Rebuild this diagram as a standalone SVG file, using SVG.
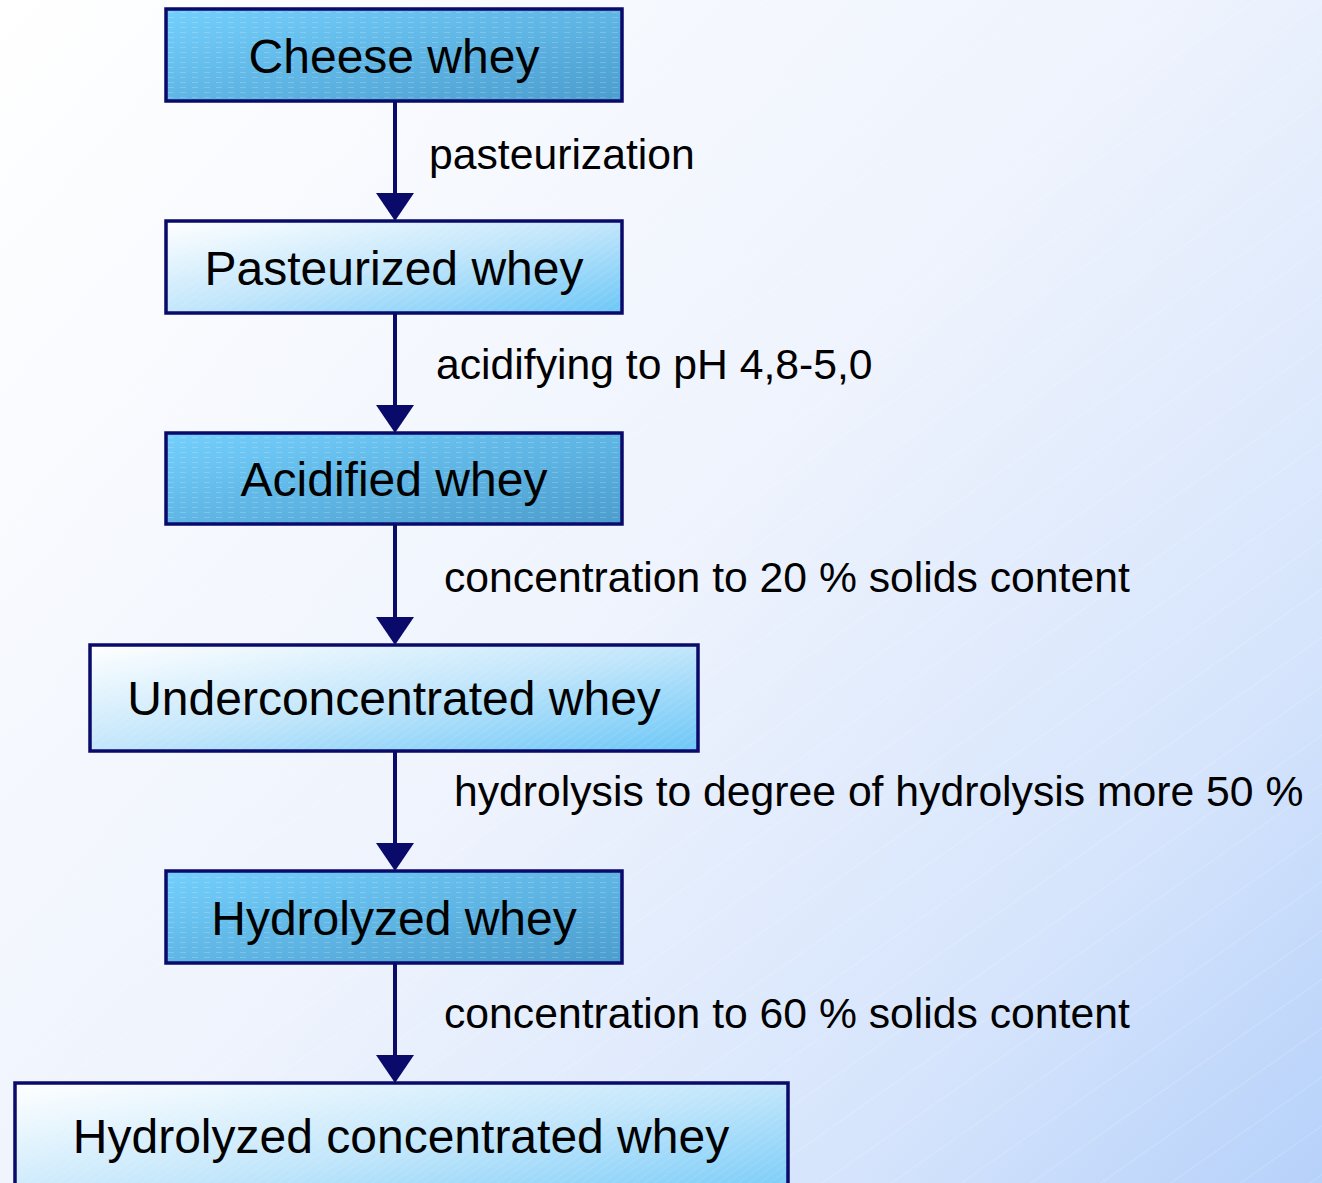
<svg xmlns="http://www.w3.org/2000/svg" width="1322" height="1183" viewBox="0 0 1322 1183">
  <defs>
    <linearGradient id="bg" x1="0" y1="0" x2="1322" y2="1183" gradientUnits="userSpaceOnUse">
      <stop offset="0" stop-color="#ffffff"/>
      <stop offset="0.5" stop-color="#eef3fd"/>
      <stop offset="0.8" stop-color="#d5e4fc"/>
      <stop offset="1" stop-color="#b6d1fa"/>
    </linearGradient>
    <pattern id="bgLines" width="40" height="40" patternUnits="userSpaceOnUse" patternTransform="rotate(-35)">
      <line x1="0" y1="0" x2="40" y2="0" stroke="#ffffff" stroke-width="1" stroke-opacity="0.35"/>
    </pattern>
    <linearGradient id="darkFill" x1="0" y1="0" x2="1" y2="1">
      <stop offset="0" stop-color="#74cffc"/>
      <stop offset="1" stop-color="#4b9dcd"/>
    </linearGradient>
    <linearGradient id="lightFill" x1="0" y1="0" x2="1" y2="1">
      <stop offset="0" stop-color="#ffffff"/>
      <stop offset="0.5" stop-color="#c2e6fb"/>
      <stop offset="1" stop-color="#6cc7f7"/>
    </linearGradient>
    <pattern id="dash" width="12" height="5" patternUnits="userSpaceOnUse">
      <line x1="0" y1="2.5" x2="6" y2="2.5" stroke="#ffffff" stroke-width="1" stroke-opacity="0.18"/>
    </pattern>
    <pattern id="diag" width="6" height="6" patternUnits="userSpaceOnUse" patternTransform="rotate(-35)">
      <line x1="0" y1="0" x2="6" y2="0" stroke="#ffffff" stroke-width="1" stroke-opacity="0.2"/>
    </pattern>
    <style>
      .box { stroke: #0a0a6b; stroke-width: 3.5; }
      .dark { fill: url(#darkFill); }
      .light { fill: url(#lightFill); }
      .title { font-family: "Liberation Sans", Arial, sans-serif; font-size: 48px; fill: #000000; text-anchor: middle; }
      .lbl { font-family: "Liberation Sans", Arial, sans-serif; font-size: 42.7px; fill: #000000; }
      .conn line { stroke: #0a0a6b; stroke-width: 4; }
      .conn polygon { fill: #0a0a6b; }
    </style>
  </defs>

  <rect x="0" y="0" width="1322" height="1183" fill="url(#bg)"/>
  <rect x="0" y="0" width="1322" height="1183" fill="url(#bgLines)"/>

  <g id="connectors" class="conn">
    <line x1="395" y1="101" x2="395" y2="195"/>
    <polygon points="376,193 414,193 395,221"/>
    <line x1="395" y1="313" x2="395" y2="407"/>
    <polygon points="376,405 414,405 395,433"/>
    <line x1="395" y1="524" x2="395" y2="619"/>
    <polygon points="376,617 414,617 395,645"/>
    <line x1="395" y1="751" x2="395" y2="845"/>
    <polygon points="376,843 414,843 395,871"/>
    <line x1="395" y1="963" x2="395" y2="1057"/>
    <polygon points="376,1055 414,1055 395,1083"/>
  </g>

  <g id="node-cheese-whey">
    <rect class="dark" x="166" y="9" width="456" height="92"/>
    <rect x="166" y="9" width="456" height="92" fill="url(#dash)"/>
    <rect class="box" x="166" y="9" width="456" height="92" fill="none"/>
    <text class="title" x="394" y="73">Cheese whey</text>
  </g>

  <g id="node-pasteurized-whey">
    <rect class="light" x="166" y="221" width="456" height="92"/>
    <rect x="166" y="221" width="456" height="92" fill="url(#diag)"/>
    <rect class="box" x="166" y="221" width="456" height="92" fill="none"/>
    <text class="title" x="394" y="285">Pasteurized whey</text>
  </g>

  <g id="node-acidified-whey">
    <rect class="dark" x="166" y="433" width="456" height="91"/>
    <rect x="166" y="433" width="456" height="91" fill="url(#dash)"/>
    <rect class="box" x="166" y="433" width="456" height="91" fill="none"/>
    <text class="title" x="394" y="496">Acidified whey</text>
  </g>

  <g id="node-underconcentrated-whey">
    <rect class="light" x="90" y="645" width="608" height="106"/>
    <rect x="90" y="645" width="608" height="106" fill="url(#diag)"/>
    <rect class="box" x="90" y="645" width="608" height="106" fill="none"/>
    <text class="title" x="394" y="715">Underconcentrated whey</text>
  </g>

  <g id="node-hydrolyzed-whey">
    <rect class="dark" x="166" y="871" width="456" height="92"/>
    <rect x="166" y="871" width="456" height="92" fill="url(#dash)"/>
    <rect class="box" x="166" y="871" width="456" height="92" fill="none"/>
    <text class="title" x="394" y="935">Hydrolyzed whey</text>
  </g>

  <g id="node-hydrolyzed-concentrated-whey">
    <rect class="light" x="15" y="1083" width="773" height="130"/>
    <rect x="15" y="1083" width="773" height="130" fill="url(#diag)"/>
    <rect class="box" x="15" y="1083" width="773" height="130" fill="none"/>
    <text class="title" x="401" y="1153">Hydrolyzed concentrated whey</text>
  </g>

  <g id="labels">
    <text class="lbl" x="429" y="169">pasteurization</text>
    <text class="lbl" x="436" y="379">acidifying to pH 4,8-5,0</text>
    <text class="lbl" x="444" y="592">concentration to 20 % solids content</text>
    <text class="lbl" x="454" y="806">hydrolysis to degree of hydrolysis more 50 %</text>
    <text class="lbl" x="444" y="1028">concentration to 60 % solids content</text>
  </g>
</svg>
